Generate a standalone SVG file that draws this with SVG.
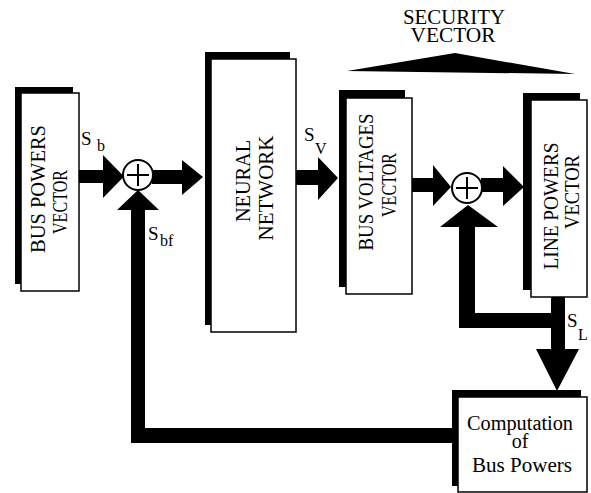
<svg xmlns="http://www.w3.org/2000/svg" width="591" height="493" viewBox="0 0 591 493">
<style>
.sh{fill:#000}
.bx{fill:#fff;stroke:#000;stroke-width:1.5}
.t{font-family:"Liberation Serif","Times New Roman",serif;font-size:20px;fill:#000}
.lb{font-family:"Liberation Serif","Times New Roman",serif;font-size:19px;fill:#000}
.sub{font-family:"Liberation Serif","Times New Roman",serif;font-size:16px;fill:#000}
.ar{fill:#000}
.sum{fill:#fff;stroke:#000;stroke-width:2}
.pl{stroke:#000;stroke-width:2}
</style>
<rect width="591" height="493" fill="#fff"/>
<g id="connectors">
<path class="ar" d="M79,170 H103 V155 L124,176.5 L103,198 V183 H79 Z"/>
<path class="ar" d="M152,170 H182 V160 L203,177 L182,195 V184 H152 Z"/>
<path class="ar" d="M296,170 H318 V157 L338,178 L318,200 V185 H296 Z"/>
<path class="ar" d="M412,178 H433 V165 L451,187 L433,206 V192 H412 Z"/>
<path class="ar" d="M481,178 H503 V166 L524,187 L503,206 V192 H481 Z"/>
<path class="ar" d="M551,296 H565 V349 H579 L557,391 L536,349 H551 Z"/>
<path class="ar" d="M440,227 L468,205 L498,227 H475 V313 H552 V328 H459 V227 Z"/>
<path class="ar" d="M453,428 H145 V210 H159 L138,190 L117,210 H131 V443 H453 Z"/>
</g>
<g id="security">
<polygon class="ar" points="347,71 455,53 575,74"/>
<text class="t" x="454" y="24" text-anchor="middle" textLength="102" lengthAdjust="spacingAndGlyphs">SECURITY</text>
<text class="t" x="453" y="42" text-anchor="middle" textLength="85" lengthAdjust="spacingAndGlyphs">VECTOR</text>
</g>
<g id="bus-powers-vector">
<rect class="sh" x="15" y="87" width="58" height="197"/>
<rect class="bx" x="21" y="93" width="58" height="198"/>
<text class="t" x="45" y="189" text-anchor="middle" transform="rotate(-90 45 189)" textLength="128" lengthAdjust="spacingAndGlyphs">BUS POWERS</text>
<text class="t" x="67" y="202" text-anchor="middle" transform="rotate(-90 67 202)" textLength="64" lengthAdjust="spacingAndGlyphs">VECTOR</text>
</g>
<g id="sum1">
<circle class="sum" cx="138" cy="175" r="15"/>
<line class="pl" x1="127" y1="175" x2="149" y2="175"/>
<line class="pl" x1="138" y1="164" x2="138" y2="186"/>
</g>
<g id="neural-network">
<rect class="sh" x="205" y="52" width="85" height="273"/>
<rect class="bx" x="211" y="59" width="85" height="273"/>
<text class="t" x="250" y="181" text-anchor="middle" transform="rotate(-90 250 181)" textLength="82" lengthAdjust="spacingAndGlyphs">NEURAL</text>
<text class="t" x="273" y="188" text-anchor="middle" transform="rotate(-90 273 188)" textLength="105" lengthAdjust="spacingAndGlyphs">NETWORK</text>
</g>
<g id="bus-voltages-vector">
<rect class="sh" x="339" y="90" width="66" height="197"/>
<rect class="bx" x="346" y="98" width="66" height="196"/>
<text class="t" x="373" y="182" text-anchor="middle" transform="rotate(-90 373 182)" textLength="137" lengthAdjust="spacingAndGlyphs">BUS VOLTAGES</text>
<text class="t" x="396" y="185" text-anchor="middle" transform="rotate(-90 396 185)" textLength="64" lengthAdjust="spacingAndGlyphs">VECTOR</text>
</g>
<g id="sum2">
<circle class="sum" cx="467" cy="188" r="15"/>
<line class="pl" x1="456" y1="188" x2="478" y2="188"/>
<line class="pl" x1="467" y1="177" x2="467" y2="199"/>
</g>
<g id="line-powers-vector">
<rect class="sh" x="523" y="93" width="57" height="197"/>
<rect class="bx" x="531" y="100" width="56" height="197"/>
<text class="t" x="558" y="206" text-anchor="middle" transform="rotate(-90 558 206)" textLength="127" lengthAdjust="spacingAndGlyphs">LINE POWERS</text>
<text class="t" x="579" y="192" text-anchor="middle" transform="rotate(-90 579 192)" textLength="74" lengthAdjust="spacingAndGlyphs">VECTOR</text>
</g>
<g id="computation">
<rect class="sh" x="452" y="390" width="129" height="96"/>
<rect class="bx" x="458" y="397" width="129" height="95"/>
<text class="t" x="520" y="430" text-anchor="middle" textLength="106" lengthAdjust="spacingAndGlyphs">Computation</text>
<text class="t" x="520" y="448" text-anchor="middle">of</text>
<text class="t" x="522" y="472" text-anchor="middle" textLength="100" lengthAdjust="spacingAndGlyphs">Bus Powers</text>
</g>
<g id="labels">
<text class="lb" x="81" y="145">S</text><text class="sub" x="97" y="151">b</text>
<text class="lb" x="148" y="240">S</text><text class="sub" x="160" y="246">bf</text>
<text class="lb" x="304" y="141">S</text><text class="sub" x="315" y="154">V</text>
<text class="lb" x="567" y="327">S</text><text class="sub" x="578" y="340">L</text>
</g>
</svg>
